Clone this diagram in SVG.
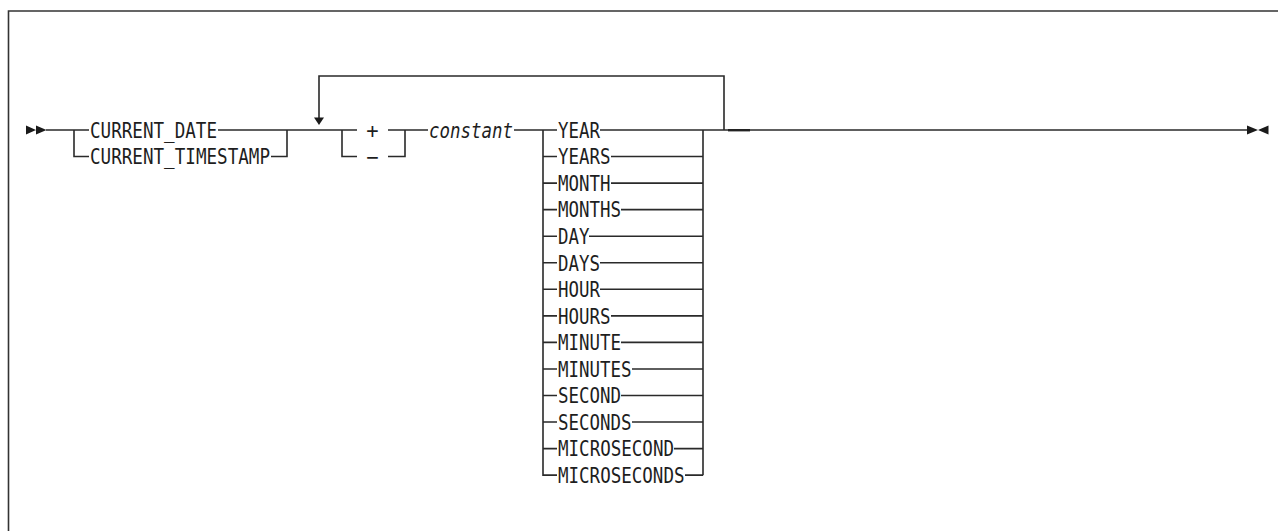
<svg xmlns="http://www.w3.org/2000/svg" width="1278" height="531" viewBox="0 0 1278 531">
<style>
.ln{fill:none;stroke:#2a2a2a;stroke-width:1.6}
.t{font-family:"DejaVu Sans Mono","Liberation Mono",monospace;font-size:20.5px;fill:#1e1e1e}
.i{font-style:italic}
.ar{fill:#1a1a1a}
.frame{fill:none;stroke:#333;stroke-width:1.6}
</style>
<rect width="1278" height="531" fill="#fff"/>
<path class="frame" d="M8.5 531V11H1278"/>
<g id="connectors">
<path class="ar" d="M26 125.5L36 130L26 134.5Z M36 125.5L46.5 130L36 134.5Z"/>
<path class="ln" d="M46 130H89 M74 130V156.5H89 M218 130H287V156.5H271 M287 130H357 M342 130V156.5H357 M388 156.5H405V130 M388 130H428 M514 130H557 M543 130V475.15H557 M703 130V475.15"/>
<path class="ln" d="M543 156.55H557 M543 183.1H557 M543 209.65H557 M543 236.2H557 M543 262.75H557 M543 289.3H557 M543 315.85H557 M543 342.4H557 M543 368.95H557 M543 395.5H557 M543 422.05H557 M543 448.6H557"/>
<path class="ln" d="M600 130H703 M611 156.55H703 M611 183.1H703 M621 209.65H703 M589 236.2H703 M600 262.75H703 M600 289.3H703 M611 315.85H703 M621 342.4H703 M632 368.95H703 M621 395.5H703 M632 422.05H703 M674 448.6H703 M685 475.15H703"/>
<path class="ln" d="M319 118V76H724V130 M703 130H1247"/>
<path class="ar" d="M314 117.5H324L319 125Z"/>
<rect x="728" y="129" width="22" height="2.4" fill="#222"/>
<path class="ar" d="M1247 125.5L1258 130L1247 134.5Z M1268.5 125.5L1258 130L1268.5 134.5Z"/>
</g>
<g id="start-choice">
<text class="t" x="90" y="137.8" textLength="127" lengthAdjust="spacingAndGlyphs">CURRENT_DATE</text>
<text class="t" x="90" y="164.3" textLength="180" lengthAdjust="spacingAndGlyphs">CURRENT_TIMESTAMP</text>
</g>
<g id="sign">
<text class="t" x="372.5" y="137.8" text-anchor="middle">+</text>
<text class="t" x="372.5" y="164.3" text-anchor="middle">−</text>
</g>
<g id="constant">
<text class="t i" x="429" y="137.8" textLength="84" lengthAdjust="spacingAndGlyphs">constant</text>
</g>
<g id="units">
<text class="t" x="558" y="137.8" textLength="42" lengthAdjust="spacingAndGlyphs">YEAR</text>
<text class="t" x="558" y="164.35" textLength="52.5" lengthAdjust="spacingAndGlyphs">YEARS</text>
<text class="t" x="558" y="190.9" textLength="52.5" lengthAdjust="spacingAndGlyphs">MONTH</text>
<text class="t" x="558" y="217.45" textLength="63" lengthAdjust="spacingAndGlyphs">MONTHS</text>
<text class="t" x="558" y="244" textLength="31.5" lengthAdjust="spacingAndGlyphs">DAY</text>
<text class="t" x="558" y="270.55" textLength="42" lengthAdjust="spacingAndGlyphs">DAYS</text>
<text class="t" x="558" y="297.1" textLength="42" lengthAdjust="spacingAndGlyphs">HOUR</text>
<text class="t" x="558" y="323.65" textLength="52.5" lengthAdjust="spacingAndGlyphs">HOURS</text>
<text class="t" x="558" y="350.2" textLength="63" lengthAdjust="spacingAndGlyphs">MINUTE</text>
<text class="t" x="558" y="376.75" textLength="73.5" lengthAdjust="spacingAndGlyphs">MINUTES</text>
<text class="t" x="558" y="403.3" textLength="63" lengthAdjust="spacingAndGlyphs">SECOND</text>
<text class="t" x="558" y="429.85" textLength="73.5" lengthAdjust="spacingAndGlyphs">SECONDS</text>
<text class="t" x="558" y="456.4" textLength="116" lengthAdjust="spacingAndGlyphs">MICROSECOND</text>
<text class="t" x="558" y="482.95" textLength="126.5" lengthAdjust="spacingAndGlyphs">MICROSECONDS</text>
</g>
</svg>
